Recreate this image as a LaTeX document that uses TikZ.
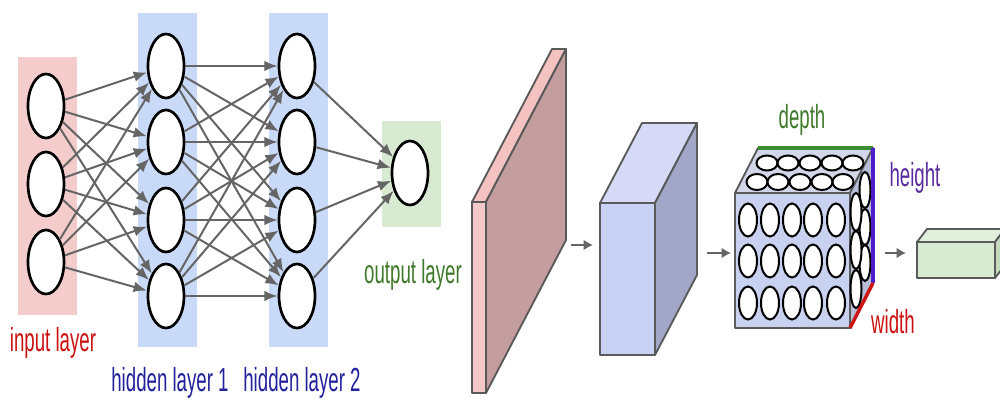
\documentclass[tikz,border=0pt]{standalone}
\usepackage{fontspec}
\usetikzlibrary{shapes.geometric,arrows.meta}
\newfontfamily\lblfont{Liberation Sans}[FakeStretch=0.56]
\definecolor{pinkbg}{HTML}{F4CCCC}
\definecolor{bluebg}{HTML}{C9DAF8}
\definecolor{greenbg}{HTML}{D9EAD3}
\definecolor{redtxt}{HTML}{CC1111}
\definecolor{bluetxt}{HTML}{22229C}
\definecolor{greentxt}{HTML}{3F7A2A}
\definecolor{purpletxt}{HTML}{5A2A9E}
\definecolor{edgegray}{HTML}{656565}
\definecolor{boxline}{HTML}{5A5A5A}
\tikzset{
  neuron/.style={ellipse, draw=black, line width=2pt, fill=white, minimum width=27pt, minimum height=48pt, inner sep=0pt},
  conn/.style={draw=edgegray, line width=1.5pt, -{Latex[length=10pt,width=8pt]}},
  lbl/.style={font=\lblfont\fontsize{25}{28}\selectfont, inner sep=0pt},
  face/.style={draw=boxline, line width=1.4pt, line join=round},
  cell/.style={draw=black, line width=1.5pt, fill=white},
  flow/.style={draw=edgegray, line width=2.2pt, -{Latex[length=7pt,width=8pt]}}
}
\begin{document}
\begin{tikzpicture}[x=0.75pt,y=-0.75pt]
\clip (0,0) rectangle (1000,403);
\fill[white] (0,0) rectangle (1000,403);
% layer backgrounds
\fill[pinkbg] (18,57) rectangle (77,315);
\fill[bluebg] (138,13) rectangle (197,347);
\fill[bluebg] (269,13) rectangle (328,347);
\fill[greenbg] (382,121) rectangle (441,227);
% neurons
\foreach \i/\y in {1/106,2/184,3/262} \node[neuron] (i\i) at (46,\y) {};
\foreach \i/\y in {1/66,2/142,3/220,4/296} {
  \node[neuron] (a\i) at (166,\y) {};
  \node[neuron] (b\i) at (297,\y) {};
}
\node[neuron] (o) at (410,173) {};
% connections
\foreach \i in {1,2,3} \foreach \j in {1,2,3,4} \draw[conn] (i\i) -- (a\j);
\foreach \i in {1,2,3,4} \foreach \j in {1,2,3,4} \draw[conn] (a\i) -- (b\j);
\foreach \i in {1,2,3,4} \draw[conn] (b\i) -- (o);
% labels
\node[lbl, text=redtxt] (tin) at (53,343) {input layer};
\node[lbl, text=bluetxt] (th1) at (170,383) {hidden layer 1};
\node[lbl, text=bluetxt] (th2) at (302,383) {hidden layer 2};
\node[lbl, text=greentxt] (tout) at (413,275) {output layer};
% pink slab
\filldraw[face, fill=pinkbg!95!red] (472,202) -- (552,49) -- (566,49) -- (486,202) -- cycle;
\filldraw[face, fill={rgb,255:red,196;green,157;blue,158}] (486,202) -- (566,49) -- (566,240) -- (486,393) -- cycle;
\filldraw[face, fill={rgb,255:red,244;green,199;blue,200}] (472,202) rectangle (486,393);
% blue box
\filldraw[face, fill={rgb,255:red,214;green,218;blue,246}] (600,203) -- (642,123) -- (697,123) -- (655,203) -- cycle;
\filldraw[face, fill={rgb,255:red,162;green,167;blue,199}] (655,203) -- (697,123) -- (697,275) -- (655,355) -- cycle;
\filldraw[face, fill={rgb,255:red,201;green,209;blue,245}] (600,203) rectangle (655,355);
% neuron cube
\filldraw[face, fill={rgb,255:red,210;green,214;blue,232}] (735,193) -- (758,148) -- (873,148) -- (850,193) -- cycle;
\filldraw[face, fill={rgb,255:red,184;green,189;blue,216}] (850,193) -- (873,148) -- (873,283) -- (850,328) -- cycle;
\filldraw[face, fill={rgb,255:red,201;green,209;blue,240}] (735,193) rectangle (850,328);
\foreach \x in {748,770,792,813,836} \foreach \y in {220,261,303}
  \draw[cell] (\x,\y) ellipse [x radius=9, y radius=16.5];
\foreach \x in {767,788,810,832,853} \draw[cell] (\x,163) ellipse [x radius=10.5, y radius=7.5];
\foreach \x in {757,778,800,822,843} \draw[cell] (\x,182) ellipse [x radius=10.5, y radius=8];
\foreach \y in {190,227,263} \draw[cell] (865,\y) ellipse [x radius=5.5, y radius=18];
\foreach \y in {212,250,289} \draw[cell] (856,\y) ellipse [x radius=5.5, y radius=19];
\draw[line width=2.4pt, draw={rgb,255:red,60;green,140;blue,50}] (758,148) -- (873,148);
\draw[line width=2.4pt, draw={rgb,255:red,80;green,30;blue,200}] (873,148) -- (873,283);
\draw[line width=2.6pt, draw={rgb,255:red,205;green,20;blue,20}] (850,328) -- (873,283);
\node[lbl, text=greentxt] (tdepth) at (802,120) {depth};
\node[lbl, text=purpletxt] (theight) at (915,178) {height};
\node[lbl, text=redtxt] (twidth) at (893,322) {width};
% green box
\filldraw[face, fill={rgb,255:red,226;green,239;blue,221}] (917,242) -- (927,229) -- (1005,229) -- (995,242) -- cycle;
\filldraw[face, fill={rgb,255:red,197;green,218;blue,189}] (995,242) -- (1005,229) -- (1005,265) -- (995,278) -- cycle;
\filldraw[face, fill={rgb,255:red,217;green,234;blue,211}] (917,242) rectangle (995,278);
% flow arrows
\coordinate (f1a) at (571,245); \coordinate (f1b) at (593,245);
\coordinate (f2a) at (707,253); \coordinate (f2b) at (731,253);
\coordinate (f3a) at (885,253); \coordinate (f3b) at (906,253);
\draw[flow] (f1a) -- (f1b);
\draw[flow] (f2a) -- (f2b);
\draw[flow] (f3a) -- (f3b);
\end{tikzpicture}
\end{document}
